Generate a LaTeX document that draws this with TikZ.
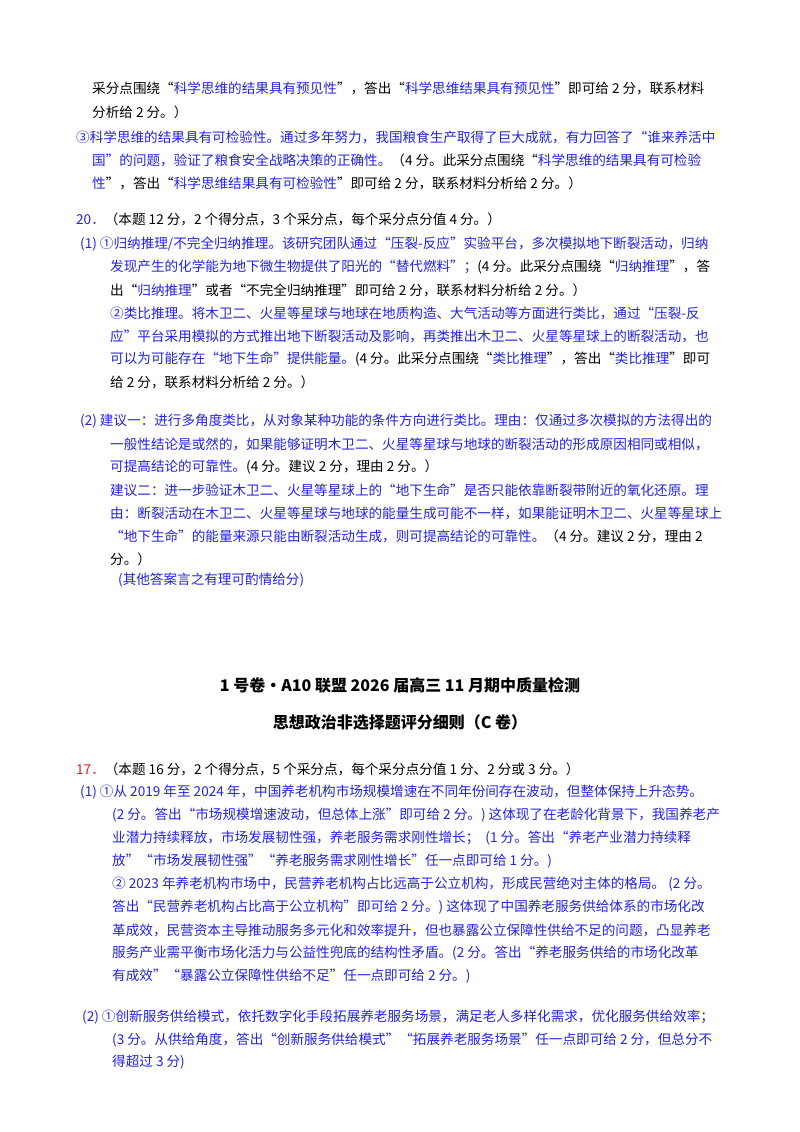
\documentclass[tikz,border=0pt]{standalone}
\usepackage{fontspec}
\setmainfont{Noto Sans CJK SC}
\definecolor{bl}{RGB}{35,35,225}
\definecolor{rd}{RGB}{225,30,30}
\newcommand{\B}[1]{\textcolor{bl}{#1}}
\tikzset{ln/.style={anchor=west,inner sep=0pt,font=\fontsize{13.6pt}{16pt}\selectfont,text=black}}
\begin{document}
\begin{tikzpicture}[x=1pt,y=-1pt]
\useasboundingbox (0,0) rectangle (800,1132);
\fill[white] (0,0) rectangle (800,1132);
\node[ln] (l1) at (92,88) {采分点围绕“\B{科学思维的结果具有预见性}”，答出“\B{科学思维结果具有预见性}”即可给 2 分，联系材料};
\node[ln] (l2) at (92,112) {分析给 2 分。）};
\node[ln] (l3) at (76,137) {\B{③科学思维的结果具有可检验性。通过多年努力，我国粮食生产取得了巨大成就，有力回答了“谁来养活中}};
\node[ln] (l4) at (92,160) {\B{国”的问题，验证了粮食安全战略决策的正确性。}（4 分。此采分点围绕“\B{科学思维的结果具有可检验}};
\node[ln] (l5) at (92,183) {\B{性}”，答出“\B{科学思维结果具有可检验性}”即可给 2 分，联系材料分析给 2 分。）};
\node[ln] (l6) at (76,219) {\B{20．}（本题 12 分，2 个得分点，3 个采分点，每个采分点分值 4 分。）};
\node[ln] (l7) at (80,244) {\B{(1) ①归纳推理/不完全归纳推理。该研究团队通过“压裂-反应”实验平台，多次模拟地下断裂活动，归纳}};
\node[ln] (l8) at (110,267) {\B{发现产生的化学能为地下微生物提供了阳光的“替代燃料”；}(4 分。此采分点围绕“\B{归纳推理}”，答};
\node[ln] (l9) at (110,290) {出“\B{归纳推理}”或者“不完全归纳推理”即可给 2 分，联系材料分析给 2 分。）};
\node[ln] (l10) at (110,313) {\B{②类比推理。将木卫二、火星等星球与地球在地质构造、大气活动等方面进行类比，通过“压裂-反}};
\node[ln] (l11) at (110,336) {\B{应”平台采用模拟的方式推出地下断裂活动及影响，再类推出木卫二、火星等星球上的断裂活动，也}};
\node[ln] (l12) at (110,359) {\B{可以为可能存在“地下生命”提供能量。}(4 分。此采分点围绕“\B{类比推理}”，答出“\B{类比推理}”即可};
\node[ln] (l13) at (110,382) {给 2 分，联系材料分析给 2 分。）};
\node[ln] (l14) at (80,421) {\B{(2) 建议一：进行多角度类比，从对象某种功能的条件方向进行类比。理由：仅通过多次模拟的方法得出的}};
\node[ln] (l15) at (110,444) {\B{一般性结论是或然的，如果能够证明木卫二、火星等星球与地球的断裂活动的形成原因相同或相似，}};
\node[ln] (l16) at (110,467) {\B{可提高结论的可靠性。}(4 分。建议 2 分，理由 2 分。）};
\node[ln] (l17) at (110,490) {\B{建议二：进一步验证木卫二、火星等星球上的“地下生命”是否只能依靠断裂带附近的氧化还原。理}};
\node[ln] (l18) at (110,513) {\B{由：断裂活动在木卫二、火星等星球与地球的能量生成可能不一样，如果能证明木卫二、火星等星球上}};
\node[ln] (l19) at (110,536) {\B{“地下生命”的能量来源只能由断裂活动生成，则可提高结论的可靠性。}（4 分。建议 2 分，理由 2};
\node[ln] (l20) at (110,559) {分。）};
\node[ln] (l21) at (118,580) {\B{(其他答案言之有理可酌情给分)}};
\node[ln,anchor=center,font=\fontsize{16pt}{18pt}\selectfont\bfseries] (t1) at (400,685) {1 号卷•A10 联盟 2026 届高三 11 月期中质量检测};
\node[ln,anchor=center,font=\fontsize{16pt}{18pt}\selectfont\bfseries] (t2) at (400,722) {思想政治非选择题评分细则（C 卷）};
\node[ln] (m1) at (76,769) {\textcolor{rd}{17．}（本题 16 分，2 个得分点，5 个采分点，每个采分点分值 1 分、2 分或 3 分。）};
\node[ln] (m2) at (80,792) {\B{(1) ①从 2019 年至 2024 年，中国养老机构市场规模增速在不同年份间存在波动，但整体保持上升态势。}};
\node[ln] (m3) at (112,815) {\B{(2 分。答出“市场规模增速波动，但总体上涨”即可给 2 分。) 这体现了在老龄化背景下，我国养老产}};
\node[ln] (m4) at (112,838) {\B{业潜力持续释放，市场发展韧性强，养老服务需求刚性增长；\ \ (1 分。答出“养老产业潜力持续释}};
\node[ln] (m5) at (112,861) {\B{放”“市场发展韧性强”“养老服务需求刚性增长”任一点即可给 1 分。)}};
\node[ln] (m6) at (112,884) {\B{② 2023 年养老机构市场中，民营养老机构占比远高于公立机构，形成民营绝对主体的格局。\ (2 分。}};
\node[ln] (m7) at (112,907) {\B{答出“民营养老机构占比高于公立机构”即可给 2 分。) 这体现了中国养老服务供给体系的市场化改}};
\node[ln] (m8) at (112,930) {\B{革成效，民营资本主导推动服务多元化和效率提升，但也暴露公立保障性供给不足的问题，凸显养老}};
\node[ln] (m9) at (112,953) {\B{服务产业需平衡市场化活力与公益性兜底的结构性矛盾。(2 分。答出“养老服务供给的市场化改革}};
\node[ln] (m10) at (112,976) {\B{有成效”“暴露公立保障性供给不足”任一点即可给 2 分。)}};
\node[ln] (m11) at (82,1017) {\B{(2) ①创新服务供给模式，依托数字化手段拓展养老服务场景，满足老人多样化需求，优化服务供给效率；}};
\node[ln] (m12) at (112,1040) {\B{(3 分。从供给角度，答出“创新服务供给模式”“拓展养老服务场景”任一点即可给 2 分，但总分不}};
\node[ln] (m13) at (112,1062) {\B{得超过 3 分)}};
\end{tikzpicture}
\end{document}
